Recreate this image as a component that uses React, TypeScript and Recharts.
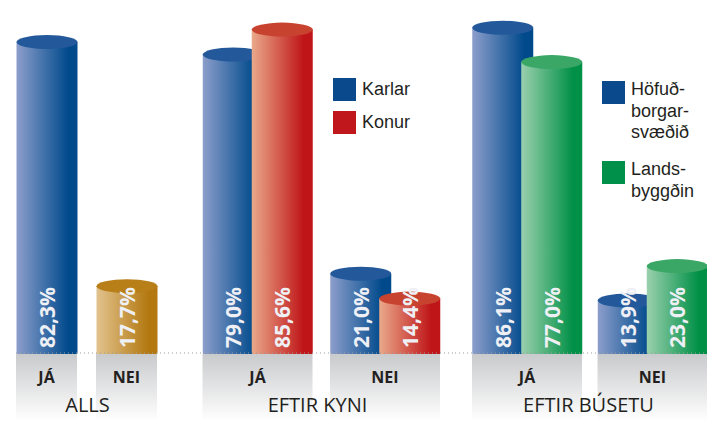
import React from 'react';
import { BarChart, Bar, XAxis, YAxis, Cell, LabelList, Legend } from 'recharts';

// survey answers, percentages
const answers = ['JÁ', 'NEI'];
const allsValues = [82.3, 17.7];
const karlarValues = [79.0, 21.0];
const konurValues = [85.6, 14.4];
const hofudborgValues = [86.1, 13.9];
const landsbyggdValues = [77.0, 23.0];

const allsData = answers.map((answer, i) => ({ answer, value: allsValues[i] }));
const kynData = answers.map((answer, i) => ({ answer, karlar: karlarValues[i], konur: konurValues[i] }));
const busetuData = answers.map((answer, i) => ({
  answer,
  hofudborg: hofudborgValues[i],
  landsbyggd: landsbyggdValues[i],
}));

const FONT = '"Open Sans", "DejaVu Sans", sans-serif';
const LEGEND_FONT = '"Liberation Sans", Arial, sans-serif';
const TEXT = '#231f20';

const TONES: Record<string, { light: string; dark: string; top: string; swatch: string }> = {
  blue: { light: '#8c9ecb', dark: '#004a8c', top: '#23599a', swatch: '#0a4a8c' },
  red: { light: '#eaa98a', dark: '#bf1519', top: '#c8432f', swatch: '#c0171d' },
  gold: { light: '#e2c38e', dark: '#b37810', top: '#b87e18', swatch: '#b37810' },
  green: { light: '#9bd0ae', dark: '#009046', top: '#3aa766', swatch: '#00904a' },
};
const allsTones = ['blue', 'gold'];

const fmt = (v: number) => v.toFixed(1).replace('.', ',') + '%';

function Cylinder(props: any) {
  const { x, y, width, height, tone } = props;
  if (!height || height <= 0) return null;
  const rx = width / 2;
  const base = y + height;
  return (
    <g>
      <path
        d={`M${x},${y} L${x},${base} A${rx},6 0 0 0 ${x + width},${base} L${x + width},${y} Z`}
        fill={`url(#cyl-${tone})`}
      />
      <ellipse cx={x + rx} cy={y} rx={rx} ry={7} fill={TONES[tone].top} />
    </g>
  );
}

function ValueLabel(props: any) {
  const { x, y, width, height, value } = props;
  const cx = x + width / 2;
  const bottom = y + height - 5;
  return (
    <text
      x={cx}
      y={bottom}
      transform={`rotate(-90 ${cx} ${bottom})`}
      textAnchor="start"
      dominantBaseline="central"
      fill="#eef0f5"
      fontSize={21}
      fontWeight={700}
      fontFamily={FONT}
    >
      {fmt(value)}
    </text>
  );
}

function AnswerTick(props: any) {
  const { x, y, payload, boxWidth } = props;
  return (
    <g>
      <rect x={x - boxWidth / 2} y={y + 1} width={boxWidth} height={67} fill="url(#box-fade)" />
      <text x={x} y={y + 30} textAnchor="middle" fontSize={16} fontWeight={700} fill={TEXT} fontFamily={FONT}>
        {payload.value}
      </text>
    </g>
  );
}

function makeLegend(items: { lines: string[]; tone: string }[], gap: number, textOffset: number) {
  return () => (
    <div style={{ display: 'flex', flexDirection: 'column', gap, fontFamily: LEGEND_FONT, color: TEXT }}>
      {items.map((it) => (
        <div key={it.lines[0]} style={{ display: 'flex', alignItems: 'flex-start' }}>
          <div style={{ width: 23, height: 23, background: TONES[it.tone].swatch, flex: 'none' }} />
          <div style={{ marginLeft: 6, marginTop: textOffset, fontSize: 18, lineHeight: '21.5px' }}>
            {it.lines.map((l) => (
              <div key={l}>{l}</div>
            ))}
          </div>
        </div>
      ))}
    </div>
  );
}

const kynLegend = makeLegend(
  [
    { lines: ['Karlar'], tone: 'blue' },
    { lines: ['Konur'], tone: 'red' },
  ],
  10,
  1.4,
);
const busetuLegend = makeLegend(
  [
    { lines: ['Höfuð-', 'borgar-', 'svæðið'], tone: 'blue' },
    { lines: ['Lands-', 'byggðin'], tone: 'green' },
  ],
  17.5,
  -2,
);

const CHART_H = 424;
const MARGIN = { top: 13, right: 0, bottom: 0, left: 0 };
const AXIS_LINE = { stroke: '#9d9d9d', strokeDasharray: '1 3' };
const groupLabel = (value: string, dx: number) => ({
  value,
  position: 'insideBottom' as const,
  offset: 12,
  dx,
  fill: TEXT,
  fontSize: 20,
  fontFamily: FONT,
});

export default function App() {
  return (
    <div style={{ position: 'absolute', left: 0, top: 0, width: 726, height: CHART_H, background: '#fff', display: 'flex' }}>
      <svg width={0} height={0} style={{ position: 'absolute' }}>
        <defs>
          {Object.entries(TONES).map(([k, t]) => (
            <linearGradient key={k} id={`cyl-${k}`} x1="0" y1="0" x2="1" y2="0">
              <stop offset="0%" stopColor={t.light} />
              <stop offset="85%" stopColor={t.dark} />
              <stop offset="100%" stopColor={t.dark} />
            </linearGradient>
          ))}
          <linearGradient id="box-fade" x1="0" y1="0" x2="0" y2="1">
            <stop offset="0%" stopColor="#c9cacc" />
            <stop offset="100%" stopColor="#ffffff" />
          </linearGradient>
        </defs>
      </svg>

      <div style={{ width: 16, flex: 'none' }} />
      <BarChart width={164} height={CHART_H} data={allsData} margin={MARGIN}>
        <XAxis
          dataKey="answer"
          height={71}
          interval={0}
          tickLine={false}
          tickSize={0}
          tickMargin={0}
          axisLine={AXIS_LINE}
          padding={{ left: -9.5, right: 13.5 }}
          tick={<AnswerTick boxWidth={61} />}
          label={groupLabel('ALLS', -10.5)}
        />
        <YAxis hide domain={[0, 90]} />
        <Bar dataKey="value" barSize={61} isAnimationActive={false} shape={(p: any) => <Cylinder {...p} tone={allsTones[p.index]} />}>
          {allsData.map((d, i) => (
            <Cell key={d.answer} fill={`url(#cyl-${allsTones[i]})`} />
          ))}
          <LabelList dataKey="value" content={<ValueLabel />} />
        </Bar>
      </BarChart>

      <BarChart width={275} height={CHART_H} data={kynData} margin={MARGIN} barGap={-12}>
        <XAxis
          dataKey="answer"
          height={71}
          interval={0}
          tickLine={false}
          tickSize={0}
          tickMargin={0}
          axisLine={AXIS_LINE}
          padding={{ left: 13.75, right: 6.25 }}
          tick={<AnswerTick boxWidth={110} />}
          label={groupLabel('EFTIR KYNI', 0)}
        />
        <YAxis hide domain={[0, 90]} />
        <Legend
          layout="vertical"
          align="center"
          verticalAlign="middle"
          content={kynLegend}
          wrapperStyle={{ left: 153, top: 78, width: 110 }}
        />
        <Bar dataKey="karlar" name="Karlar" barSize={61} fill="url(#cyl-blue)" isAnimationActive={false} shape={(p: any) => <Cylinder {...p} tone="blue" />}>
          <LabelList dataKey="karlar" content={<ValueLabel />} />
        </Bar>
        <Bar dataKey="konur" name="Konur" barSize={61} fill="url(#cyl-red)" isAnimationActive={false} shape={(p: any) => <Cylinder {...p} tone="red" />}>
          <LabelList dataKey="konur" content={<ValueLabel />} />
        </Bar>
      </BarChart>

      <BarChart width={252} height={CHART_H} data={busetuData} margin={MARGIN} barGap={-12}>
        <XAxis
          dataKey="answer"
          height={71}
          interval={0}
          tickLine={false}
          tickSize={0}
          tickMargin={0}
          axisLine={AXIS_LINE}
          padding={{ left: 9.25, right: -8.25 }}
          tick={<AnswerTick boxWidth={110} />}
          label={groupLabel('EFTIR BÚSETU', 7.5)}
        />
        <YAxis hide domain={[0, 90]} />
        <Legend
          layout="vertical"
          align="center"
          verticalAlign="middle"
          content={busetuLegend}
          wrapperStyle={{ left: 147, top: 81, width: 120 }}
        />
        <Bar dataKey="hofudborg" name="Höfuðborgarsvæðið" barSize={61} fill="url(#cyl-blue)" isAnimationActive={false} shape={(p: any) => <Cylinder {...p} tone="blue" />}>
          <LabelList dataKey="hofudborg" content={<ValueLabel />} />
        </Bar>
        <Bar dataKey="landsbyggd" name="Landsbyggðin" barSize={61} fill="url(#cyl-green)" isAnimationActive={false} shape={(p: any) => <Cylinder {...p} tone="green" />}>
          <LabelList dataKey="landsbyggd" content={<ValueLabel />} />
        </Bar>
      </BarChart>
    </div>
  );
}
